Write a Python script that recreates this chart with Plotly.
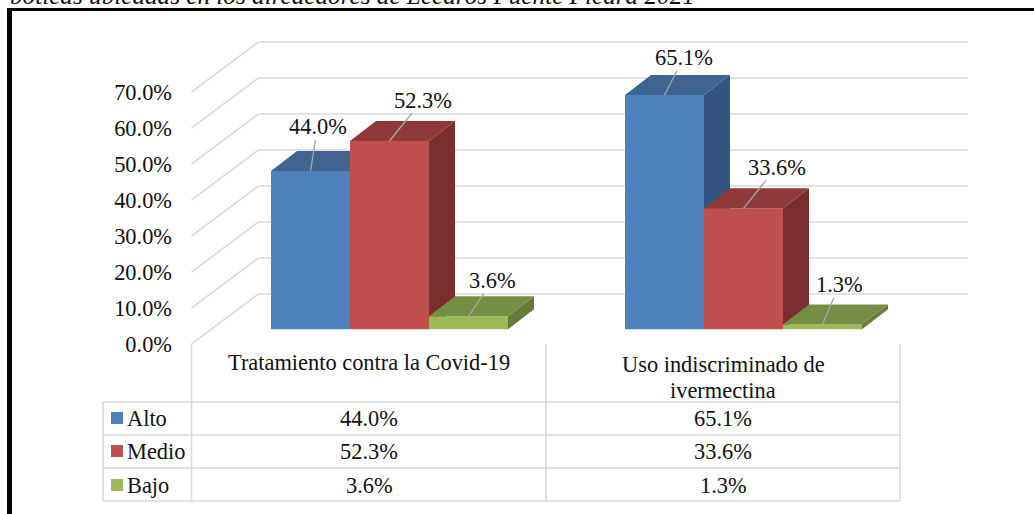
import plotly.graph_objects as go

W = 1034
H = 514

title_text = "boticas ubicadas en los alrededores de Lécaros Puente Piedra 2021"
categories = ["Tratamiento contra la Covid-19", "Uso indiscriminado de<br>ivermectina"]
series_names = ["Alto", "Medio", "Bajo"]
alto = [44.0, 65.1]
medio = [52.3, 33.6]
bajo = [3.6, 1.3]
value_ticks = [0, 10, 20, 30, 40, 50, 60, 70]

front_colors = ["#4F81BD", "#C0504D", "#9BBB59"]
top_colors = ["#3F6491", "#8F3A38", "#758E43"]
side_colors = ["#335480", "#7A2F2E", "#657C39"]
grid_color = "#D9D9D9"
leader_color = "#A6A6A6"
text_color = "#111111"
font_name = "Liberation Serif"
font_size = 22.4

# pixel layout of the 3d box
px_per_unit = 3.6
zero_front = 344  # 0% on the near edge of the floor
zero_bars = 329.3  # 0% on the front faces of the bars
floor_dx = 67
floor_dy = 50
wall_left = 191.5
wall_right = 968
bar_dx = 26
bar_dy = 20
bar_w = 79
group_px = [389.5, 743.5]
# label centre relative to the middle of the bar top, in pixels
label_offsets = [
    [(7, -44), (33, -41), (24, -36)],
    [(19, -37), (33, -41), (17, -40)],
]


def yrange(zero_px):
    return [(zero_px - H) / px_per_unit, zero_px / px_per_unit]


def xp(px):
    return px / W


def yp(py):
    return 1 - py / H


def page_text(px, py, text, xanchor="center", size=font_size):
    return dict(
        x=xp(px),
        y=yp(py),
        xref="paper",
        yref="paper",
        xanchor=xanchor,
        yanchor="middle",
        text=text,
        showarrow=False,
        font=dict(family=font_name, size=size, color=text_color),
    )


fig = go.Figure()

# back wall and floor edge gridlines, on the plain x / y axes
for tick in value_ticks:
    fig.add_trace(
        go.Scatter(
            x=[wall_left, wall_left + floor_dx, wall_right],
            y=[tick, tick + floor_dy / px_per_unit, tick + floor_dy / px_per_unit],
            mode="lines",
            line=dict(color=grid_color, width=1.6),
            hoverinfo="skip",
            showlegend=False,
        )
    )

dx_unit = bar_dx
dy_unit = bar_dy / px_per_unit

# one overlaid subplot per series so each one paints over the one before it
for s, values in enumerate([alto, medio, bajo]):
    xname = "x%d" % (s + 2)
    yname = "y%d" % (s + 2)
    lefts = [g + (s - 1.5) * bar_w for g in group_px]
    fig.add_trace(
        go.Bar(
            x=[left + bar_w / 2 for left in lefts],
            y=values,
            width=bar_w,
            name=series_names[s],
            marker=dict(color=front_colors[s], line=dict(width=0)),
            xaxis=xname,
            yaxis=yname,
            showlegend=False,
        )
    )
    for left, v in zip(lefts, values):
        right = left + bar_w
        fig.add_trace(
            go.Scatter(
                x=[right, right + dx_unit, right + dx_unit, right, right],
                y=[0, dy_unit, v + dy_unit, v, 0],
                mode="lines",
                line=dict(width=0),
                fill="toself",
                fillcolor=side_colors[s],
                xaxis=xname,
                yaxis=yname,
                hoverinfo="skip",
                showlegend=False,
            )
        )
        fig.add_trace(
            go.Scatter(
                x=[left, right, right + dx_unit, left + dx_unit, left],
                y=[v, v, v + dy_unit, v + dy_unit, v],
                mode="lines",
                line=dict(width=0),
                fill="toself",
                fillcolor=top_colors[s],
                xaxis=xname,
                yaxis=yname,
                hoverinfo="skip",
                showlegend=False,
            )
        )

annotations = []

# data labels with their leader lines
for g in range(2):
    for s, values in enumerate([alto, medio, bajo]):
        ax, ay = label_offsets[g][s]
        annotations.append(
            dict(
                x=group_px[g] + (s - 1) * bar_w,
                y=values[g],
                xref="x4",
                yref="y4",
                text="%.1f%%" % values[g],
                showarrow=True,
                arrowhead=0,
                arrowwidth=1.3,
                arrowcolor=leader_color,
                ax=ax,
                ay=ay,
                borderpad=0,
                font=dict(family=font_name, size=font_size, color=text_color),
            )
        )

# data table text, the tighter line spacing needs one annotation per line
table_cols = [369, 723]
row_centres = [418, 451, 485]
for c, cat in enumerate(categories):
    lines = cat.split("<br>")
    for i, line in enumerate(lines):
        py = 362 if len(lines) == 1 else 364 + 26 * i
        annotations.append(page_text(table_cols[c], py, line))
shapes = []
for r, values in enumerate([alto, medio, bajo]):
    annotations.append(page_text(125, row_centres[r], series_names[r], xanchor="left"))
    for c in range(2):
        annotations.append(page_text(table_cols[c], row_centres[r], "%.1f%%" % values[c]))
    shapes.append(
        dict(
            type="rect",
            xref="paper",
            yref="paper",
            x0=xp(111),
            x1=xp(123),
            y0=yp(row_centres[r] - 6),
            y1=yp(row_centres[r] + 6),
            fillcolor=front_colors[r],
            line=dict(width=0),
        )
    )

# cut off caption above the frame
annotations.append(page_text(8, -5, "<i>" + title_text + "</i>", xanchor="left", size=25.2))

# table grid
for py in [402, 435, 468, 501]:
    shapes.append(
        dict(
            type="line",
            xref="paper",
            yref="paper",
            x0=xp(103),
            x1=xp(900),
            y0=yp(py),
            y1=yp(py),
            line=dict(color=grid_color, width=1.6),
        )
    )
for px, top in [(103, 402), (191.5, 344), (546, 344), (900, 344)]:
    shapes.append(
        dict(
            type="line",
            xref="paper",
            yref="paper",
            x0=xp(px),
            x1=xp(px),
            y0=yp(top),
            y1=yp(501),
            line=dict(color=grid_color, width=1.6),
        )
    )

# black frame, open at the right and bottom
for x0, x1, y0, y1 in [(7, W, 8, 11), (7, 12, 8, H)]:
    shapes.append(
        dict(
            type="rect",
            xref="paper",
            yref="paper",
            x0=xp(x0),
            x1=xp(x1),
            y0=yp(y0),
            y1=yp(y1),
            fillcolor="#000000",
            line=dict(width=0),
        )
    )

fig.update_layout(
    width=W,
    height=H,
    margin=dict(l=0, r=0, t=0, b=0),
    paper_bgcolor="white",
    plot_bgcolor="rgba(0,0,0,0)",
    showlegend=False,
    annotations=annotations,
    shapes=shapes,
    xaxis=dict(range=[0, W], visible=False, domain=[0, 1]),
    yaxis=dict(
        range=yrange(zero_front),
        anchor="free",
        position=172 / W,
        tickmode="array",
        tickvals=value_ticks,
        ticktext=["%.1f%%" % t for t in value_ticks],
        tickfont=dict(family=font_name, size=font_size, color=text_color),
        ticks="",
        showgrid=False,
        zeroline=False,
        showline=False,
    ),
)

for n in [2, 3, 4]:
    fig.update_layout(
        {
            "xaxis%d" % n: dict(
                range=[0, W],
                visible=False,
                overlaying="x",
                anchor="y%d" % n,
            ),
            "yaxis%d" % n: dict(
                range=yrange(zero_bars),
                visible=False,
                overlaying="y",
                anchor="x%d" % n,
            ),
        }
    )

# the page's default body margin would push everything 8px in
fig.write_html(
    "out.html",
    config=dict(displayModeBar=False),
    post_script="document.body.style.margin='0';",
)
